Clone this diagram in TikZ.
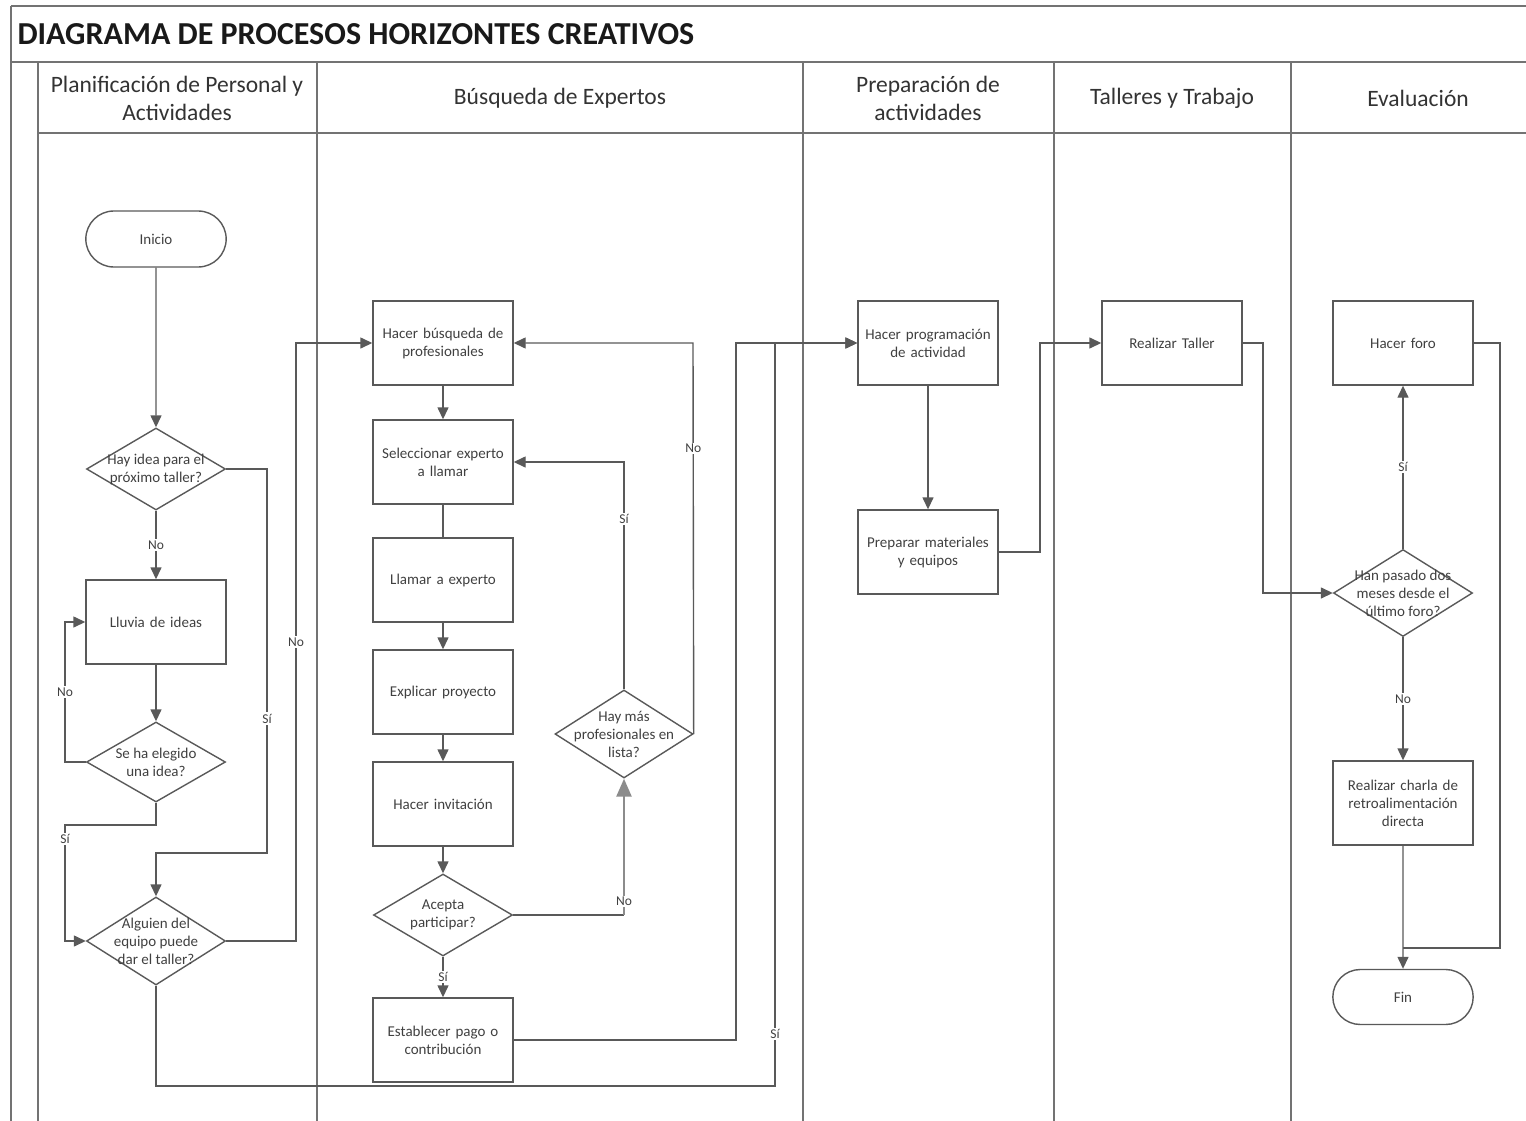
\documentclass[tikz,border=0pt]{standalone}
\usepackage{fontspec}
\setmainfont{Carlito}
\usetikzlibrary{shapes.geometric, shapes.misc, arrows.meta}

\begin{document}
\begin{tikzpicture}[x=1pt, y=-1pt,
    every node/.style={font=\fontsize{15}{18}\selectfont, text=black!75},
    linea/.style={draw=black!65, line width=1.4pt},
    flecha/.style={linea, -{Triangle[length=12pt,width=11pt]}},
    flechagris/.style={draw=black!45, line width=2.6pt, -{Triangle[length=18pt,width=15pt]}},
    carril/.style={draw=black!55, line width=2.2pt},
    proceso/.style={draw=black!65, line width=1.4pt, rectangle, minimum width=140pt, minimum height=84pt, text width=130pt, align=center},
    terminal/.style={draw=black!65, line width=1.4pt, rounded rectangle, minimum width=147pt, minimum height=56pt},
    decision/.style={draw=black!65, line width=1.4pt, diamond, minimum width=139pt, minimum height=84pt, inner sep=0pt},
    dtexto/.style={align=center, inner sep=0pt},
    etiq/.style={fill=white, inner sep=1.5pt, font=\fontsize{13.5}{15}\selectfont},
    cabecera/.style={font=\fontsize{23.5}{28}\selectfont, align=center, text=black!80}]
    \useasboundingbox (0,0) rectangle (1526,1121);

    % Marco y carriles
    \draw[carril] (11,6) -- (1526,6);
    \draw[carril] (11,6) -- (11,1121);
    \draw[carril] (11,62) -- (1526,62);
    \draw[carril] (38,62) -- (38,1121);
    \draw[carril] (38,133) -- (1526,133);
    \foreach \x in {317,803,1054,1291}
        \draw[carril] (\x,62) -- (\x,1121);

    % Titulo y cabeceras
    \node[anchor=west, font=\fontsize{32}{38}\selectfont\bfseries, text=black!90] (titulo) at (14,34) {DIAGRAMA DE PROCESOS HORIZONTES CREATIVOS};
    \node[cabecera] (cab1) at (177,98) {Planificación de Personal y\\Actividades};
    \node[cabecera] (cab2) at (560,98) {Búsqueda de Expertos};
    \node[cabecera] (cab3) at (928,98) {Preparación de\\actividades};
    \node[cabecera] (cab4) at (1172,98) {Talleres y Trabajo};
    \node[cabecera] (cab5) at (1418,98) {Evaluación};

    % Planificacion
    \node[terminal] (inicio) at (156,239) {Inicio};
    \node[decision, minimum height=82pt, label={[dtexto]center:Hay idea para el\\próximo taller?}] (d1) at (156,469) {};
    \node[proceso] (lluvia) at (156,622) {Lluvia de ideas};
    \node[decision, minimum height=80pt, label={[dtexto]center:Se ha elegido\\una idea?}] (d2) at (156,762) {};
    \node[decision, minimum height=88pt, label={[dtexto]center:Alguien del\\equipo puede\\dar el taller?}] (d3) at (156,941) {};

    % Busqueda de expertos
    \node[proceso] (b1) at (443,343) {Hacer búsqueda de\\profesionales};
    \node[proceso] (b2) at (443,462) {Seleccionar experto\\a llamar};
    \node[proceso] (b3) at (443,580) {Llamar a experto};
    \node[proceso] (b4) at (443,692) {Explicar proyecto};
    \node[proceso] (b5) at (443,804) {Hacer invitación};
    \node[decision, minimum height=82pt, label={[dtexto]center:Acepta\\participar?}] (d4) at (443,915) {};
    \node[proceso] (b6) at (443,1040) {Establecer pago o\\contribución};
    \node[decision, minimum width=138pt, minimum height=88pt, label={[dtexto]center:Hay más\\profesionales en\\lista?}] (d5) at (624,734) {};

    % Preparacion
    \node[proceso] (p1) at (928,343) {Hacer programación\\de actividad};
    \node[proceso] (p2) at (928,552) {Preparar materiales\\y equipos};

    % Talleres
    \node[proceso] (t1) at (1172,343) {Realizar Taller};

    % Evaluacion
    \node[proceso] (e1) at (1403,343) {Hacer foro};
    \node[decision, minimum height=87pt, label={[dtexto]center:Han pasado dos\\meses desde el\\último foro?}] (e2) at (1403,593) {};
    \node[proceso] (e3) at (1403,803) {Realizar charla de\\retroalimentación\\directa};
    \node[terminal, minimum height=55pt] (fin) at (1403,997) {Fin};
    \coordinate (junta) at (1403,948);

    % Conectores planificacion
    \draw[flecha] (inicio) -- (d1);
    \draw[flecha] (d1) -- node[etiq] {No} (lluvia);
    \draw[flecha] (d1.east) -- (267,469) -- node[etiq, pos=.65] {Sí} (267,853) -| (d3.north);
    \draw[flecha] (lluvia) -- (d2);
    \draw[flecha] (d2.west) -- (65,762) -- node[etiq] {No} (65,622) -- (lluvia.west);
    \draw[flecha] (d2.south) -- (156,825) -- (65,825) -- node[etiq, pos=.12] {Sí} (65,941) -- (d3.west);
    \draw[flecha] (d3.east) -- (296,941) -- node[etiq] {No} (296,343) -- (b1.west);
    \draw[flecha] (d3.south) -- (156,1086) -- (775,1086) -- node[etiq, pos=.07] {Sí} (775,343) -- (p1.west);

    % Conectores busqueda
    \draw[flecha] (b1) -- (b2);
    \draw[linea] (b2) -- (b3);
    \draw[flecha] (b3) -- (b4);
    \draw[flecha] (b4) -- (b5);
    \draw[flecha] (b5) -- (d4);
    \draw[flecha] (d4) -- node[etiq] {Sí} (b6);
    \draw[linea] (d4.east) -- (624,915);
    \draw[flechagris] (624,915) -- node[etiq, pos=.1] {No} (d5.south);
    \draw[flecha] (d5.north) -- node[etiq, pos=.75] {Sí} (624,462) -- (b2.east);
    \draw[flecha] (d5.east) -- node[etiq, pos=.73] {No} (693,343) -- (b1.east);
    \draw[flecha] (b6.east) -- (736,1040) -- (736,343) -- (p1.west);

    % Conectores preparacion y talleres
    \draw[flecha] (p1) -- (p2);
    \draw[flecha] (p2.east) -- (1040,552) -- (1040,343) -- (t1.west);
    \draw[flecha] (t1.east) -- (1263,343) -- (1263,593) -- (e2.west);

    % Conectores evaluacion
    \draw[flecha] (e2) -- node[etiq] {Sí} (e1);
    \draw[flecha] (e2) -- node[etiq] {No} (e3);
    \draw[flecha] (e3) -- (fin);
    \draw[linea] (e1.east) -- (1500,343) -- (1500,948) -- (junta);
\end{tikzpicture}
\end{document}
